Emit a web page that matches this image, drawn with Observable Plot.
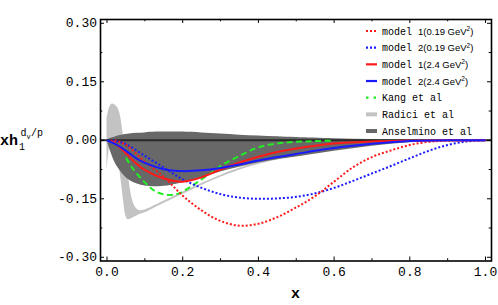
<!DOCTYPE html>
<html>
<head>
<meta charset="utf-8">
<script src="https://cdn.jsdelivr.net/npm/d3@7"></script>
<script src="https://cdn.jsdelivr.net/npm/@observablehq/plot@0.6"></script>
<style>
  html, body { margin: 0; padding: 0; background: white; }
  #chart { width: 498px; height: 305px; }
</style>
</head>
<body>
<div id="chart"></div>
<script>
// ---- Data ----
// model 1 (0.19 GeV^2), red dotted
const m1LowX = [0.02,0.05,0.1,0.15,0.2,0.25,0.3,0.35,0.4,0.45,0.5,0.55,0.6,0.65,0.7,0.75,0.8,0.85,0.9,1.0];
const m1LowY = [0,-0.012,-0.055,-0.094,-0.142,-0.18,-0.207,-0.219,-0.214,-0.197,-0.172,-0.143,-0.106,-0.069,-0.043,-0.026,-0.012,-0.004,-0.001,0];
// model 2 (0.19 GeV^2), blue dotted
const m2LowX = [0.015,0.05,0.1,0.15,0.2,0.25,0.3,0.35,0.4,0.45,0.5,0.55,0.6,0.65,0.7,0.75,0.8,0.85,0.9,0.95,1.0];
const m2LowY = [0,-0.01,-0.04,-0.07,-0.1,-0.122,-0.138,-0.147,-0.15,-0.149,-0.145,-0.136,-0.122,-0.104,-0.085,-0.066,-0.046,-0.027,-0.012,-0.003,0];
// model 1 (2.4 GeV^2), red solid
const m1HighX = [0.01,0.03,0.05,0.07,0.1,0.15,0.2,0.25,0.3,0.35,0.4,0.45,0.5,0.6,0.7,0.8,0.9,1.0];
const m1HighY = [0,-0.015,-0.033,-0.053,-0.076,-0.098,-0.106,-0.095,-0.075,-0.057,-0.042,-0.03,-0.021,-0.008,-0.003,-0.001,0,0];
// model 2 (2.4 GeV^2), blue solid
const m2HighX = [0.0,0.03,0.05,0.08,0.1,0.15,0.2,0.25,0.3,0.35,0.4,0.45,0.5,0.55,0.6,0.65,0.7,0.75,0.8,0.9,1.0];
const m2HighY = [0,-0.014,-0.027,-0.048,-0.058,-0.074,-0.079,-0.077,-0.071,-0.062,-0.052,-0.043,-0.035,-0.027,-0.02,-0.014,-0.009,-0.005,-0.002,0,0];
// Kang et al, green dashed
const kangX = [0.05,0.07,0.1,0.13,0.16,0.19,0.22,0.25,0.28,0.31,0.35,0.4,0.45,0.5,0.55,0.6];
const kangY = [-0.045,-0.075,-0.108,-0.132,-0.14,-0.136,-0.12,-0.1,-0.08,-0.06,-0.04,-0.018,-0.008,-0.004,-0.002,-0.001];
// Radici et al, light gray band
const radX  = [0,0.005,0.01,0.015,0.02,0.025,0.03,0.035,0.04,0.045,0.05,0.055,0.06,0.067,0.075,0.085,0.1,0.125,0.15,0.2,0.25,0.3,0.35,0.4,0.5,0.6,0.7,0.8,0.9,1.0];
const radHi = [0.054,0.078,0.09,0.093,0.091,0.087,0.08,0.065,0.035,0.0,-0.04,-0.08,-0.115,-0.152,-0.172,-0.18,-0.179,-0.168,-0.156,-0.133,-0.111,-0.09,-0.072,-0.057,-0.036,-0.021,-0.01,-0.004,-0.001,0];
const radLo = [-0.083,-0.03,-0.005,-0.005,-0.01,-0.02,-0.045,-0.085,-0.125,-0.165,-0.195,-0.203,-0.203,-0.2,-0.196,-0.191,-0.186,-0.174,-0.162,-0.139,-0.116,-0.095,-0.077,-0.062,-0.04,-0.025,-0.013,-0.005,-0.0015,0];
// Anselmino et al, dark gray band
const anselX  = [0,0.01,0.02,0.03,0.04,0.06,0.08,0.1,0.13,0.16,0.2,0.25,0.3,0.35,0.4,0.45,0.5,0.6,0.7,0.8,0.9,1.0];
const anselHi = [0,0.005,0.008,0.011,0.013,0.016,0.018,0.019,0.021,0.021,0.021,0.019,0.016,0.013,0.011,0.009,0.007,0.004,0.002,0.001,0,0];
const anselLo = [0,-0.03,-0.055,-0.072,-0.085,-0.103,-0.112,-0.117,-0.119,-0.117,-0.109,-0.096,-0.081,-0.069,-0.058,-0.05,-0.043,-0.028,-0.015,-0.006,-0.001,0];

// ticks
const xMajor = [0,0.2,0.4,0.6,0.8,1.0];
const xMinor = [0.1,0.3,0.5,0.7,0.9];
const yMajor = [-0.3,-0.15,0,0.15,0.3];
const yMinor = [-0.225,-0.075,0.075,0.225];

// legend
const legendLabels = ["model 1", "model 2", "model 1", "model 2", "Kang et al", "Radici et al", "Anselmino et al"];
const legendScale  = ["(0.19 GeV", "(0.19 GeV", "(2.4 GeV", "(2.4 GeV", null, null, null];

// ---- build tables ----
const pts = (xs, ys) => xs.map((x, i) => ({x, y: ys[i]}));
const band = (xs, lo, hi) => xs.map((x, i) => ({x, lo: lo[i], hi: hi[i]}));

const W = 498, H = 305, mL = 100, mR = 7, mT = 19, mB = 44.5;
const innerW = W - mL - mR, innerH = H - mT - mB;
const mono = "'Liberation Mono', 'DejaVu Sans Mono', monospace";
const sans = "'Liberation Sans', Arial, sans-serif";

const styles = [
  {stroke: "#ff1a1a", dash: "2,2"},
  {stroke: "#1a1aff", dash: "2,2"},
  {stroke: "#ff1a1a", dash: null},
  {stroke: "#1a1aff", dash: null},
  {stroke: "#22ee22", dash: "6,3.5"}
];
const lineOpts = (s) => ({x: "x", y: "y", stroke: s.stroke, strokeWidth: 2,
  strokeDasharray: s.dash || "none", strokeLinecap: "butt", curve: "catmull-rom"});

const plot = Plot.plot({
  width: W, height: H,
  marginLeft: mL, marginRight: mR, marginTop: mT, marginBottom: mB,
  x: {domain: [-0.0172, 1.0158]},
  y: {domain: [-0.3095, 0.3097]},
  style: {background: "white", fontFamily: mono, color: "black"},
  marks: [
    Plot.areaY(band(radX, radLo, radHi), {x: "x", y1: "lo", y2: "hi", fill: "#c3c3c3", curve: "catmull-rom"}),
    Plot.areaY(band(anselX, anselLo, anselHi), {x: "x", y1: "lo", y2: "hi", fill: "#686868", curve: "catmull-rom"}),
    Plot.ruleY([0], {stroke: "#2a2a2a", strokeWidth: 2}),
    Plot.line(pts(kangX, kangY), lineOpts(styles[4])),
    Plot.line(pts(m2LowX, m2LowY), lineOpts(styles[1])),
    Plot.line(pts(m1LowX, m1LowY), lineOpts(styles[0])),
    Plot.line(pts(m1HighX, m1HighY), lineOpts(styles[2])),
    Plot.line(pts(m2HighX, m2HighY), lineOpts(styles[3])),
    Plot.frame({stroke: "black", strokeWidth: 1.6}),
    // inward ticks, all four sides
    Plot.tickX(xMajor, {x: d => d, stroke: "black", insetTop: innerH - 4}),
    Plot.tickX(xMajor, {x: d => d, stroke: "black", insetBottom: innerH - 4}),
    Plot.tickX(xMinor, {x: d => d, stroke: "black", insetTop: innerH - 2.3}),
    Plot.tickX(xMinor, {x: d => d, stroke: "black", insetBottom: innerH - 2.3}),
    Plot.tickY(yMajor, {y: d => d, stroke: "black", insetRight: innerW - 4}),
    Plot.tickY(yMajor, {y: d => d, stroke: "black", insetLeft: innerW - 4}),
    Plot.tickY(yMinor, {y: d => d, stroke: "black", insetRight: innerW - 2.3}),
    Plot.tickY(yMinor, {y: d => d, stroke: "black", insetLeft: innerW - 2.3}),
    Plot.axisX(xMajor, {tickSize: 0, tickPadding: 6, tickFormat: d => d.toFixed(1), fontSize: 13, fontFamily: mono, label: null}),
    Plot.axisY(yMajor, {tickSize: 0, tickPadding: 3.5, tickFormat: d => d.toFixed(2), fontSize: 13, fontFamily: mono, label: null})
  ]
});

document.getElementById("chart").appendChild(plot);
const svg = d3.select(plot);

// x axis label
svg.append("text").attr("x", 295.5).attr("y", 298).attr("text-anchor", "middle")
  .attr("font-family", mono).attr("font-size", 15).attr("font-weight", "bold").text("x");

// y axis label: x h_1^{d_v/p}
const yl = svg.append("text").attr("font-family", mono).attr("fill", "black").attr("text-anchor", "start");
yl.append("tspan").attr("x", 0).attr("y", 144.5).attr("font-size", 15).attr("font-weight", "bold").text("xh");
yl.append("tspan").attr("x", 19).attr("y", 150).attr("font-size", 10).text("1");
yl.append("tspan").attr("x", 20.5).attr("y", 136).attr("font-size", 10).text("d");
yl.append("tspan").attr("x", 26.5).attr("y", 138.5).attr("font-size", 7).text("v");
yl.append("tspan").attr("x", 31).attr("y", 136).attr("font-size", 10).text("/p");

// legend
const rowY0 = 31, rowStep = 16.67, swX0 = 366, swX1 = 377, txtX = 382;
legendLabels.forEach((lab, i) => {
  const cy = rowY0 + i * rowStep;
  if (i < 5) {
    const s = styles[i];
    const ln = svg.append("line").attr("x1", swX0).attr("x2", swX1).attr("y1", cy).attr("y2", cy)
      .attr("stroke", s.stroke).attr("stroke-width", 2.2);
    if (s.dash) ln.attr("stroke-dasharray", i === 4 ? "2.5,5" : "2,2");
  } else {
    svg.append("rect").attr("x", swX0).attr("y", cy - 2).attr("width", swX1 - swX0).attr("height", 4)
      .attr("fill", i === 5 ? "#c3c3c3" : "#686868");
  }
  const t = svg.append("text").attr("x", txtX).attr("y", cy + 3.5).attr("font-family", mono)
    .attr("font-size", 10).attr("fill", "black").attr("text-anchor", "start");
  if (legendScale[i]) {
    const parts = lab.split(" ");
    t.append("tspan").text(parts[0] + " ");
    t.append("tspan").attr("font-family", sans).attr("font-size", 9.5)
      .text(parts[1] + legendScale[i]);
    t.append("tspan").attr("font-family", sans).attr("font-size", 6.5)
      .attr("dy", -3.5).text("2");
    t.append("tspan").attr("font-family", sans).attr("font-size", 9.5)
      .attr("dy", 3.5).text(")");
  } else {
    t.text(lab);
  }
});
</script>
</body>
</html>
